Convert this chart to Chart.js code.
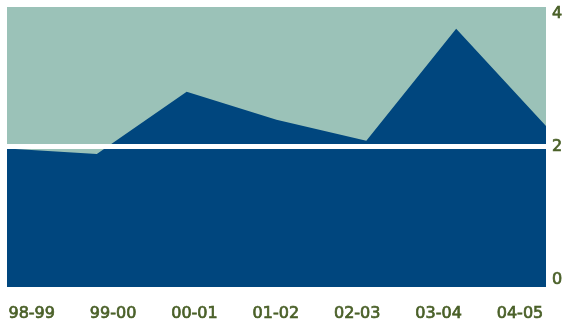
<!DOCTYPE html>
<html>
<head>
<meta charset="utf-8">
<script src="https://cdn.jsdelivr.net/npm/chart.js@4/dist/chart.umd.min.js"></script>
<style>
  html, body { margin: 0; padding: 0; background: #ffffff; }
  #wrap { width: 564px; height: 324px; }
</style>
</head>
<body>
<div id="wrap"><canvas id="myChart"></canvas></div>
<script>
// chart data
const categories = ["98-99", "99-00", "00-01", "01-02", "02-03", "03-04", "04-05"];
const values = [1.98, 1.9, 2.79, 2.39, 2.09, 3.69, 2.3];
const yTicks = [0, 2, 4];
const refLine = 2;

const olive = "#4a6028";
const tickFont = { family: "DejaVu Sans", size: 16 };

// paint the plot area teal
const plotBackground = {
  id: "plotBackground",
  beforeDraw(chart) {
    const { ctx, chartArea: a } = chart;
    ctx.save();
    ctx.fillStyle = "#9bc2b8";
    ctx.fillRect(a.left, a.top, a.right - a.left, a.bottom - a.top);
    ctx.restore();
  },
};

const ctx = document.getElementById("myChart").getContext("2d");
const myChart = new Chart(ctx, {
  type: "line",
  data: {
    labels: categories,
    datasets: [
      {
        data: values,
        backgroundColor: "#00467e",
        borderWidth: 0,
        pointRadius: 0,
        fill: "start",
        tension: 0,
      },
    ],
  },
  options: {
    responsive: true,
    maintainAspectRatio: false,
    animation: false,
    layout: { padding: { left: 7, top: 7, right: 2, bottom: 3 } },
    plugins: { legend: { display: false }, tooltip: { enabled: false } },
    scales: {
      x: { type: "category", display: false, offset: false },
      y: { display: false, min: 0, max: 4 },
      // label axes (spread like the original, not tied to points)
      xLabels: {
        type: "linear",
        position: "bottom",
        min: -0.3035,
        max: 6.3195,
        afterBuildTicks: (scale) => {
          scale.ticks = categories.map((c, i) => ({ value: i }));
        },
        afterFit: (scale) => {
          scale.height = 34;
          scale.paddingLeft = 0;
          scale.paddingRight = 0;
        },
        grid: { display: false },
        border: { display: false },
        ticks: {
          color: olive,
          font: tickFont,
          textStrokeColor: olive,
          textStrokeWidth: 0.7,
          padding: 9,
          autoSkip: false,
          maxRotation: 0,
          callback: (v) => categories[v],
        },
      },
      yLabels: {
        type: "linear",
        position: "right",
        min: -0.1,
        max: 4.1,
        afterBuildTicks: (scale) => {
          scale.ticks = yTicks.map((v) => ({ value: v }));
        },
        afterFit: (scale) => {
          scale.width = 16;
          scale.paddingTop = 0;
          scale.paddingBottom = 0;
        },
        grid: {
          z: 1,
          drawTicks: false,
          lineWidth: 5,
          color: (c) => (c.tick && c.tick.value === refLine ? "#ffffff" : "rgba(0,0,0,0)"),
        },
        border: { display: false },
        ticks: {
          color: olive,
          font: tickFont,
          textStrokeColor: olive,
          textStrokeWidth: 0.7,
          padding: 6,
        },
      },
    },
  },
  plugins: [plotBackground],
});
</script>
</body>
</html>
